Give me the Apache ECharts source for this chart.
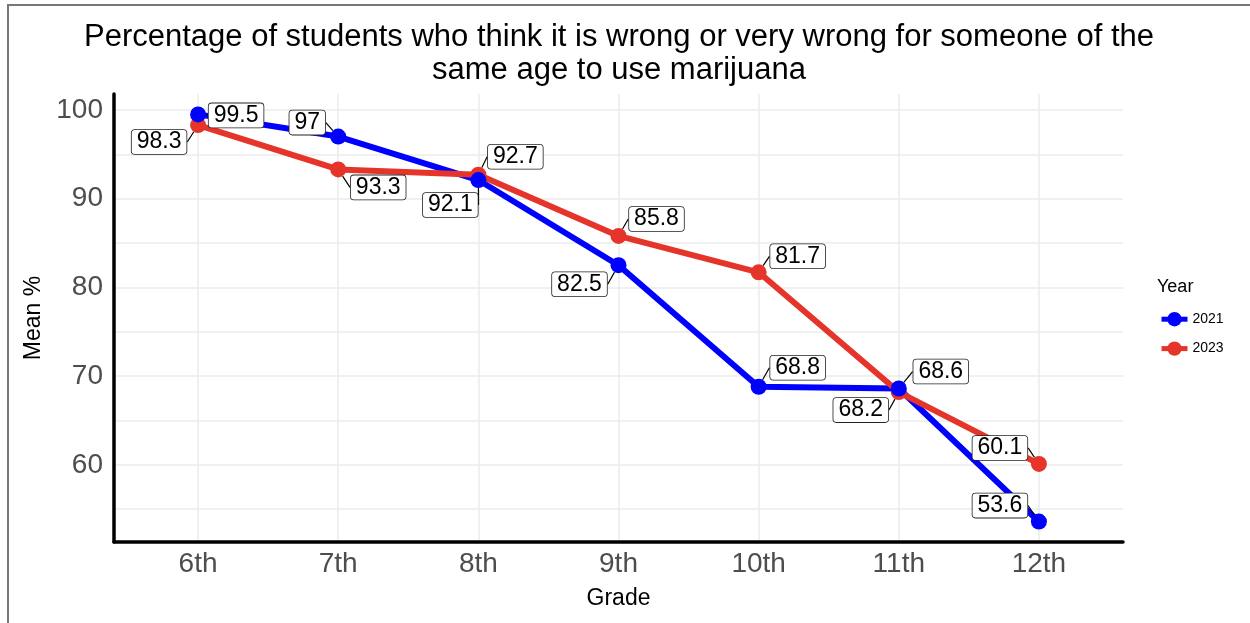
<!DOCTYPE html>
<html>
<head>
<meta charset="utf-8">
<script src="https://cdn.jsdelivr.net/npm/echarts@6/dist/echarts.min.js"></script>
<style>
  html, body { margin: 0; padding: 0; background: #fff; }
  #frame { position: absolute; left: 7px; top: 4px; width: 1243px; height: 619px;
           border-left: 2px solid #777; border-top: 2px solid #777; box-sizing: border-box; }
  #chart { position: absolute; left: 0; top: 0; width: 1250px; height: 623px; }
</style>
</head>
<body>
<div id="frame"></div>
<div id="chart"></div>
<script>
// ---- data ----
const grades = ['6th', '7th', '8th', '9th', '10th', '11th', '12th'];
const years = ['2021', '2023'];
const mean2021 = [99.5, 97, 92.1, 82.5, 68.8, 68.6, 53.6];
const mean2023 = [98.3, 93.3, 92.7, 85.8, 81.7, 68.2, 60.1];
const yTickLabels = [60, 70, 80, 90, 100];
const yGridValues = [55, 60, 65, 70, 75, 80, 85, 90, 95, 100];

// ---- style (label displacement, pixels relative to each point) ----
const labelShift2021 = [[38, 1], [-31, -14], [-28, 25], [-39, 19], [39, -19], [42, -17], [-39, -16]];
const labelShift2023 = [[-39, 17], [40, 18], [37, -18], [38, -17], [39, -16], [-38, 18], [-39, -16]];

const FONT = "'Liberation Sans', Arial, Helvetica, sans-serif";
const BLUE = '#0000FF';
const RED = '#E5352A';

const pts = vals => vals.map((v, i) => [i, v]);
const xIdx = grades.map((g, i) => i);

const labelCfg = {
  show: true,
  position: 'inside',
  formatter: p => String(p.value[1]),
  fontFamily: FONT,
  fontSize: 23,
  color: '#000',
  backgroundColor: '#fff',
  borderColor: '#222',
  borderWidth: 0.8,
  borderRadius: 3,
  padding: [1, 5, 0, 5]
};

const chart = echarts.init(document.getElementById('chart'), null, { renderer: 'canvas' });
chart.setOption({
  backgroundColor: 'transparent',
  animation: false,
  textStyle: { fontFamily: FONT },
  title: [
    {
      text: 'Percentage of students who think it is wrong or very wrong for someone of the\nsame age to use marijuana',
      left: 614, top: 16, textAlign: 'center',
      textStyle: { fontFamily: FONT, fontSize: 31, fontWeight: 'normal', color: '#000', lineHeight: 33 }
    },
    {
      text: 'Year', left: 1152, top: 273,
      textStyle: { fontFamily: FONT, fontSize: 18, fontWeight: 'normal', color: '#000' }
    }
  ],
  legend: {
    data: years,
    orient: 'vertical',
    left: 1154, top: 307,
    itemWidth: 26, itemHeight: 18, itemGap: 15,
    lineStyle: { width: 5 },
    textStyle: { fontFamily: FONT, fontSize: 14, color: '#000' }
  },
  grid: { left: 114, right: 127, top: 94, bottom: 81, containLabel: false },
  xAxis: {
    type: 'value',
    min: -0.6, max: 6.6,
    name: 'Grade', nameLocation: 'middle', nameGap: 45,
    nameTextStyle: { fontFamily: FONT, fontSize: 23, color: '#000' },
    axisLine: { show: true, onZero: false, lineStyle: { color: '#000', width: 3.5 } },
    axisTick: { show: false, customValues: xIdx },
    axisLabel: {
      customValues: xIdx,
      formatter: v => grades[Math.round(v)],
      fontFamily: FONT, fontSize: 28, color: '#4D4D4D', margin: 8
    },
    splitLine: { show: true, lineStyle: { color: '#EBEBEB', width: 1.5 } }
  },
  yAxis: {
    type: 'value',
    min: 51.3, max: 101.8,
    name: 'Mean %', nameLocation: 'middle', nameGap: 63, nameRotate: 90,
    nameTextStyle: { fontFamily: FONT, fontSize: 23, color: '#000' },
    axisLine: { show: true, onZero: false, lineStyle: { color: '#000', width: 3.5 } },
    axisTick: { show: false, customValues: yGridValues },
    axisLabel: {
      customValues: yTickLabels,
      fontFamily: FONT, fontSize: 28, color: '#4D4D4D', margin: 11
    },
    splitLine: { show: true, lineStyle: { color: '#EBEBEB', width: 1.5 } }
  },
  series: [
    {
      name: '2021', type: 'line', data: pts(mean2021),
      symbol: 'circle', symbolSize: 15, showSymbol: false,
      itemStyle: { color: BLUE }, lineStyle: { color: BLUE, width: 6 }, z: 2
    },
    {
      name: '2023', type: 'line', data: pts(mean2023),
      symbol: 'circle', symbolSize: 15, showSymbol: false,
      itemStyle: { color: RED }, lineStyle: { color: RED, width: 6 }, z: 3
    },
    {
      name: '2023', type: 'scatter', data: pts(mean2023),
      symbol: 'circle', symbolSize: 16, itemStyle: { color: RED, opacity: 1 }, z: 4,
      label: labelCfg,
      labelLine: { show: true, lineStyle: { color: '#000', width: 1.2 } },
      labelLayout: p => ({ dx: labelShift2023[p.dataIndex][0], dy: labelShift2023[p.dataIndex][1] })
    },
    {
      name: '2021', type: 'scatter', data: pts(mean2021),
      symbol: 'circle', symbolSize: 16, itemStyle: { color: BLUE, opacity: 1 }, z: 5,
      label: labelCfg,
      labelLine: { show: true, lineStyle: { color: '#000', width: 1.2 } },
      labelLayout: p => ({ dx: labelShift2021[p.dataIndex][0], dy: labelShift2021[p.dataIndex][1] })
    }
  ]
});
</script>
</body>
</html>
